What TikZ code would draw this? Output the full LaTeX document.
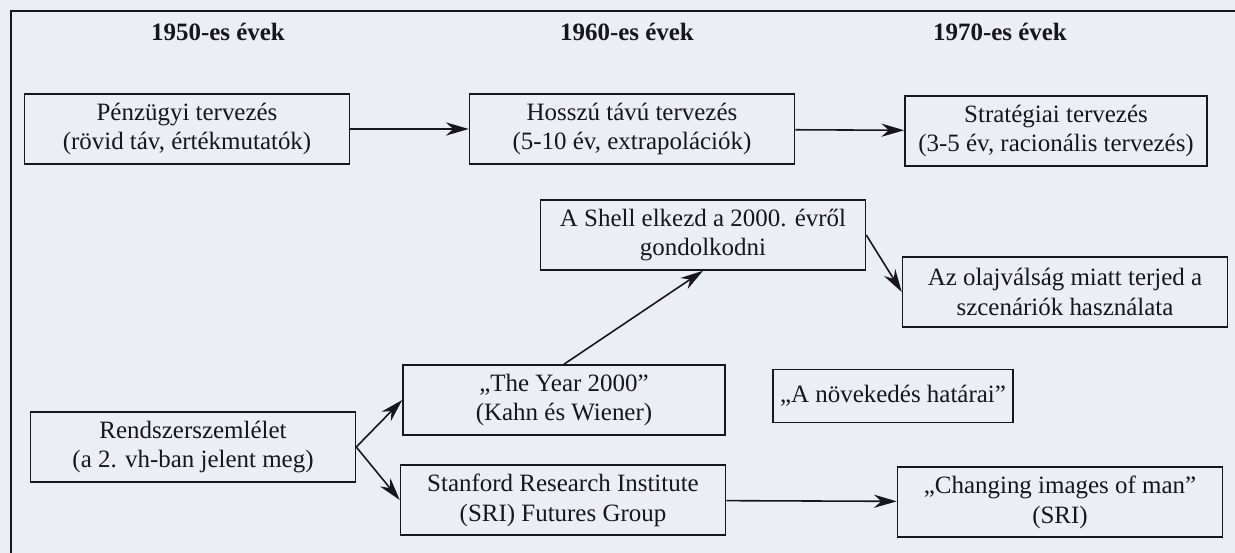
\documentclass[tikz,border=0pt]{standalone}
\usepackage{fontspec}
\setmainfont{Liberation Serif}
\usetikzlibrary{arrows.meta,positioning}
\definecolor{PaperTint}{RGB}{236,238,246}
\definecolor{InkGray}{RGB}{22,22,28}

\begin{document}
\begin{tikzpicture}[
          x=0.02cm,y=-0.02cm,
          bx/.style={draw=InkGray,line width=0.9pt,inner sep=0pt,align=center,
                     minimum width=6.5cm,minimum height=1.4cm,
                     font=\fontsize{14.2}{17}\selectfont,text=InkGray},
          hd/.style={font=\fontsize{14.2}{17}\selectfont\bfseries,text=InkGray},
          ar/.style={-{Stealth[length=13pt,width=7.5pt]},line width=0.9pt,InkGray}
        ]
          \fill[PaperTint] (0,0) rectangle (1235,553);
          \useasboundingbox (0,0) rectangle (1235,553);
          \draw[InkGray,line width=0.9pt] (1235,11) -- (11,11) -- (11,553);

          % decades
          \node(h50)[hd] at (218,32){1950-es évek};
          \node(h60)[hd] at (627,32){1960-es évek};
          \node(h70)[hd] at (1000,32){1970-es évek};

          \node(penz)[bx] at (187,129){Pénzügyi tervezés\\(rövid táv, értékmutatók)};
          \node(hossz)[bx] at (632,129){Hosszú távú tervezés\\(5-10 év, extrapolációk)};
          \node(strat)[bx,minimum width=6.04cm] at (1056,131){Stratégiai tervezés\\(3-5 év, racionális tervezés)};

          \node(shell)[bx] at (703,235){A Shell elkezd a 2000. évről\\gondolkodni};
          \node(olaj)[bx] at (1065,292){Az olajválság miatt terjed a\\szcenáriók használata};
          \node(novek)[bx,minimum width=4.8cm,minimum height=1.06cm] at (893,396){„A növekedés határai”};

          \node(rend)[bx] at (193,447){Rendszerszemlélet\\(a 2. vh-ban jelent meg)};
          \node(year)[bx,minimum width=6.44cm] at (564,400){„The Year 2000”\\(Kahn és Wiener)};
          \node(sri)[bx] at (563,500){Stanford Research Institute\\(SRI) Futures Group};
          \node(chg)[bx] at (1060,502){„Changing images of man”\\(SRI)};

          \draw[ar] (penz) -- (hossz);
          \draw[ar] (hossz) -- (strat);
          \draw[ar] (shell.east) -- (olaj.west);
          \draw[ar] (year.north) -- (shell.south);
          \draw[ar] (rend.east) -- (year.west);
          \draw[ar] (rend.east) -- (sri.west);
          \draw[ar] (sri) -- (chg);
        \end{tikzpicture}
\end{document}
